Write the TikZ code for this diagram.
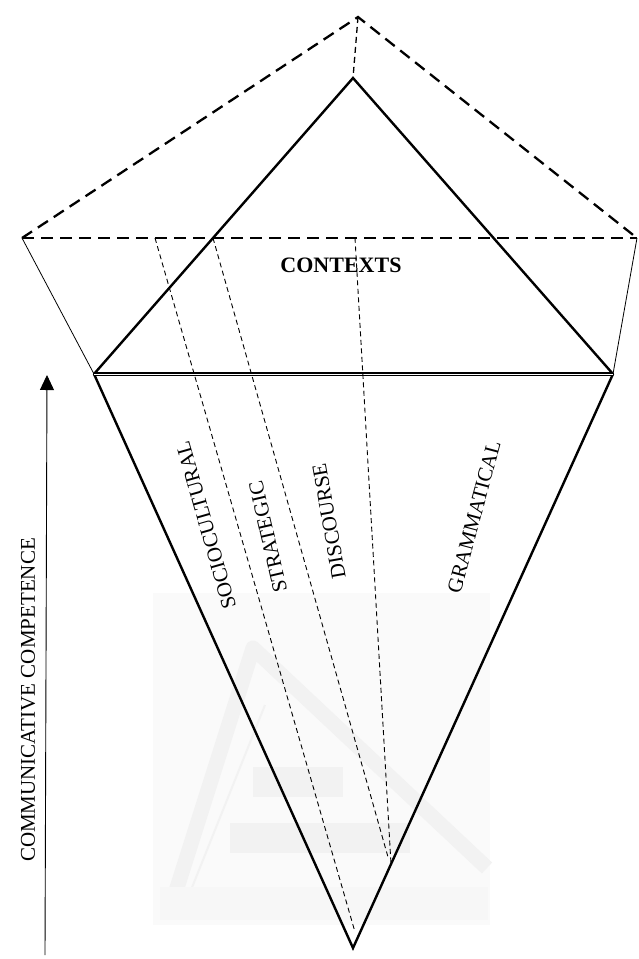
\documentclass[tikz,border=0pt]{standalone}
\usepackage{fontspec}
\setmainfont{Liberation Serif}
\usetikzlibrary{arrows.meta}
\begin{document}
\begin{tikzpicture}[x=1pt,y=-1pt,
  edge/.style={line width=2.4pt, line join=miter, line cap=round},
  outline/.style={line width=2.3pt, dash pattern=on 12pt off 7pt},
  apexdash/.style={line width=1.3pt, dash pattern=on 6pt off 4pt},
  guide/.style={line width=0.8pt},
  divider/.style={line width=0.9pt, dash pattern=on 5pt off 3.5pt},
  lbl/.style={font=\fontsize{21}{25}\selectfont, inner sep=0pt},
  wmbg/.style={fill=black!2},
  wmark/.style={black!5}
]
\useasboundingbox (0,0) rectangle (638,959);

% faint emblem in the background
\fill[wmbg] (153,593) rectangle (490,925);
\draw[wmark, line width=15pt, line join=round] (170,910) -- (253,648) -- (487,868);
\draw[wmark, line width=2pt] (185,905) -- (265,705);
\fill[wmark] (253,767) rectangle (343,797);
\fill[wmark] (230,823) rectangle (410,853);
\fill[black!3] (160,887) rectangle (488,920);

% key points
\coordinate (top)  at (358,17);
\coordinate (outL) at (22,238);
\coordinate (outR) at (637,238);
\coordinate (apex) at (353,78);
\coordinate (bl)   at (94,374);
\coordinate (br)   at (613,374);
\coordinate (bot)  at (353,948);

% outer dashed frame of contexts
\draw[outline] (outL) -- (top) -- (outR);
\draw[outline] (outL) -- (outR);
\draw[apexdash] (top) -- (apex);
\draw[guide] (outL) -- (bl);
\draw[guide] (outR) -- (br);

% upper triangle and lower wedge
\draw[edge] (bl) -- (apex) -- (br);
\draw[edge] (bl) -- (bot) -- (br);
\draw[double, line width=1.3pt, double distance=0.7pt] (bl) -- (br);

% dividing lines between competences
\coordinate (d1a) at (155,238); \coordinate (d1b) at (355,932);
\coordinate (d2a) at (213,238); \coordinate (d2b) at (388,857);
\coordinate (d3a) at (355,238); \coordinate (d3b) at (391,864);
\draw[divider] (d1a) -- (d1b);
\draw[divider] (d2a) -- (d2b);
\draw[divider] (d3a) -- (d3b);

% labels
\node[lbl, font=\fontsize{22}{26}\selectfont\bfseries] (contexts) at (341,265) {CONTEXTS};
\node[lbl, rotate=106] (socio) at (206,525) {SOCIOCULTURAL};
\node[lbl, rotate=103] (strat) at (268,537) {STRATEGIC};
\node[lbl, rotate=100] (disc)  at (329,521) {DISCOURSE};
\node[lbl, rotate=75]  (gram)  at (474,517) {GRAMMATICAL};

% vertical arrow
\coordinate (arrB) at (45,955);
\coordinate (arrT) at (47,375);
\draw[line width=0.9pt, -{Triangle[length=15pt,width=14pt]}] (arrB) -- (arrT);
\node[lbl, rotate=90] (comm) at (28,700) {COMMUNICATIVE COMPETENCE};
\end{tikzpicture}
\end{document}
